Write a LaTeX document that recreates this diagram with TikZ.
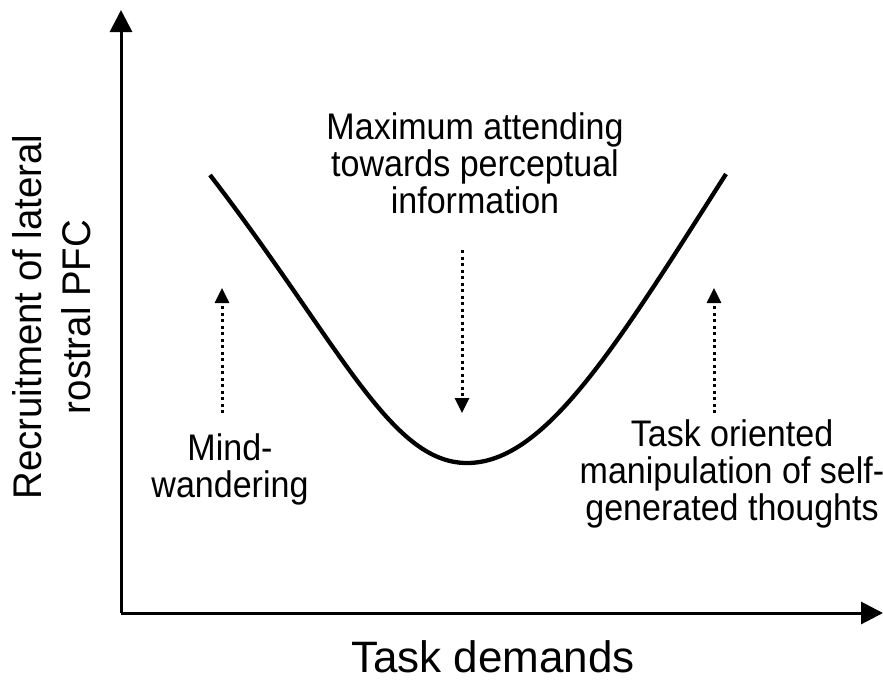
\documentclass[tikz,border=0pt]{standalone}
\usepackage{fontspec}
\setmainfont{Liberation Sans}
\newfontfamily\narrowsans[FakeStretch=0.92]{Liberation Sans}
\newfontfamily\ylabsans[FakeStretch=0.96]{Liberation Sans}
\usetikzlibrary{arrows.meta}
\begin{document}
\begin{tikzpicture}[x=1pt,y=-1pt,
  axis/.style={line width=3pt,-{Triangle[length=22pt,width=22pt]}},
  dotarrow/.style={line width=3pt,dash pattern=on 3pt off 3.5pt,-{Triangle[length=15pt,width=14pt]}},
  curve/.style={line width=4.3pt},
  lbl/.style={inner sep=0pt,align=center,font=\narrowsans\fontsize{37}{37}\selectfont},
  ylbl/.style={inner sep=0pt,align=center,font=\ylabsans\fontsize{40}{49}\selectfont}]
\useasboundingbox (0,0) rectangle (883,681);
% axes
\coordinate (origin) at (121,613);
\coordinate (ytop) at (121,10);
\coordinate (xend) at (883,613);
\draw[axis] (origin) -- (ytop);
\draw[axis] (origin) -- (xend);
% curve
\coordinate (cl) at (210,175);
\coordinate (cm) at (467,463);
\coordinate (cr) at (726,174);
\draw[curve] (cl) .. controls (340,344) and (390,463) .. (cm)
  .. controls (545,463) and (615,348) .. (cr);
% dotted arrows
\coordinate (la0) at (222,413); \coordinate (la1) at (222,288);
\coordinate (ra0) at (714,413); \coordinate (ra1) at (714,288);
\coordinate (ma0) at (462,250); \coordinate (ma1) at (462,413);
\draw[dotarrow] (la0) -- (la1);
\draw[dotarrow] (ra0) -- (ra1);
\draw[dotarrow] (ma0) -- (ma1);
% labels
\node[lbl] (mid) at (475,163) {Maximum attending\\towards perceptual\\information};
\node[lbl] (mind) at (230,469) {Mind-\\wandering};
\node[lbl] (task) at (732,474) {Task oriented\\manipulation of self-\\generated thoughts};
\node[inner sep=0pt,font=\fontsize{44}{50}\selectfont,anchor=base] (xlab) at (493,672) {Task demands};
\node[ylbl,rotate=90] (ylab) at (52,317) {Recruitment of lateral\\rostral PFC};
\end{tikzpicture}
\end{document}
